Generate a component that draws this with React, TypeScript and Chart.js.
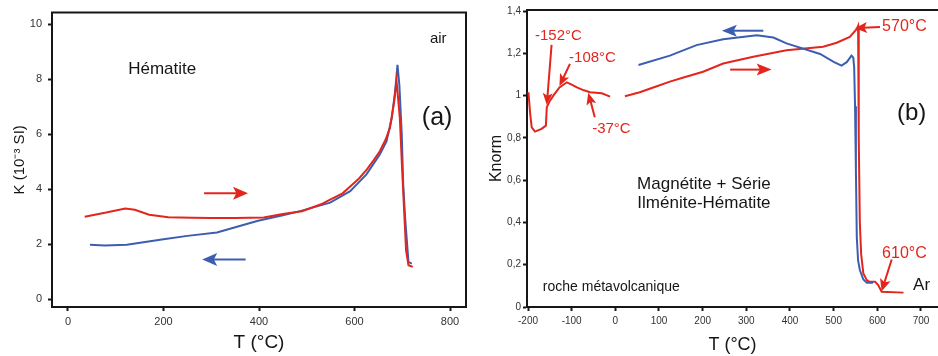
import React, { useEffect, useRef } from "react";
import { Chart, registerables } from "chart.js";

Chart.register(...registerables);

const FONT = "'Liberation Sans', Arial, Helvetica, sans-serif";
Chart.defaults.font.family = FONT;

const RED = "#e3261d";
const BLUE = "#3c5eb0";
const INK = "#161616";

// ---------- Panel (a): Hématite, air ----------
const aHeatT = [35, 80, 120, 140, 170, 210, 260, 300, 350, 410, 450, 490, 530, 549, 575, 591, 610, 626, 640, 653, 665, 674, 683, 688, 695, 699, 704, 708, 713, 722];
const aHeatK = [3.0, 3.15, 3.3, 3.25, 3.07, 2.98, 2.96, 2.95, 2.95, 2.97, 3.1, 3.2, 3.45, 3.62, 3.85, 4.1, 4.4, 4.72, 5.05, 5.38, 5.8, 6.22, 7.18, 7.95, 6.58, 5.0, 3.2, 1.77, 1.23, 1.17];
const aCoolT = [720, 713, 706, 702, 699, 694, 690, 685, 678, 667, 653, 625, 591, 549, 486, 450, 398, 312, 250, 200, 123, 77, 46];
const aCoolK = [1.29, 1.35, 2.97, 4.18, 5.98, 7.78, 8.53, 7.55, 6.58, 5.74, 5.26, 4.54, 3.93, 3.51, 3.2, 3.05, 2.85, 2.42, 2.3, 2.18, 1.98, 1.95, 1.98];
const aXTicks = [0, 200, 400, 600, 800];
const aYTicks = [0, 2, 4, 6, 8, 10];

// ---------- Panel (b): Magnétite + Série Ilménite-Hématite, Ar ----------
const bHeatLowT = [-199, -195, -191.5, -184, -169, -159, -157, -150, -142, -128, -111, -100, -88, -72, -58, -31, -12];
const bHeatLowK = [1.016, 0.914, 0.85, 0.83, 0.843, 0.858, 0.945, 0.975, 1.0, 1.039, 1.063, 1.052, 1.039, 1.025, 1.016, 1.011, 0.995];
const bHeatHighT = [22, 56, 95, 125, 156, 201, 247, 316, 392, 476, 507, 537, 553, 556, 557, 558, 560, 563, 568, 576, 581, 595, 602, 610, 660];
const bHeatHighK = [0.997, 1.016, 1.044, 1.066, 1.086, 1.113, 1.152, 1.184, 1.215, 1.231, 1.25, 1.278, 1.315, 1.33, 1.2, 0.8, 0.4, 0.25, 0.159, 0.127, 0.12, 0.12, 0.104, 0.072, 0.068];
const bCoolT = [53, 125, 186, 247, 324, 362, 392, 469, 500, 518, 530, 541, 545, 547, 549, 551, 553, 556, 560, 568, 576, 590];
const bCoolK = [1.145, 1.189, 1.239, 1.267, 1.286, 1.275, 1.247, 1.197, 1.16, 1.142, 1.158, 1.189, 1.18, 1.134, 0.95, 0.646, 0.33, 0.22, 0.175, 0.13, 0.115, 0.115];
const bXTicks = [-200, -100, 0, 100, 200, 300, 400, 500, 600, 700];
const bYTicks = [0, 0.2, 0.4, 0.6, 0.8, 1, 1.2, 1.4];

// ---------- annotations (data coordinates) ----------
type Arrow = { from: [number, number]; to: [number, number]; color: string; len: number; half: number };
type Label = { text: string; at: [number, number]; color: string; size: number; align: CanvasTextAlign };

const aArrows: Arrow[] = [
  { from: [285, 3.85], to: [377, 3.85], color: RED, len: 15, half: 6.5 },
  { from: [372, 1.44], to: [281, 1.44], color: BLUE, len: 15, half: 6.5 },
];
const aLabels: Label[] = [
  { text: "Hématite", at: [126, 8.38], color: INK, size: 17, align: "left" },
  { text: "air", at: [758, 9.46], color: INK, size: 15, align: "left" },
  { text: "(a)", at: [741, 6.57], color: INK, size: 25, align: "left" },
];

const bArrows: Arrow[] = [
  { from: [339, 1.307], to: [244, 1.307], color: BLUE, len: 15, half: 6 },
  { from: [263, 1.123], to: [358, 1.123], color: RED, len: 15, half: 6 },
  { from: [-146, 1.24], to: [-157, 0.955], color: RED, len: 12, half: 5 },
  { from: [-104, 1.15], to: [-128, 1.045], color: RED, len: 12, half: 5 },
  { from: [-47, 0.898], to: [-62, 1.014], color: RED, len: 12, half: 5 },
  { from: [606, 1.325], to: [549, 1.319], color: RED, len: 12, half: 5.5 },
  { from: [633, 0.225], to: [610, 0.075], color: RED, len: 12, half: 5.5 },
];
const bLabels: Label[] = [
  { text: "-152°C", at: [-184, 1.283], color: RED, size: 15, align: "left" },
  { text: "-108°C", at: [-106, 1.179], color: RED, size: 15, align: "left" },
  { text: "-37°C", at: [-53, 0.844], color: RED, size: 15, align: "left" },
  { text: "570°C", at: [611, 1.325], color: RED, size: 16, align: "left" },
  { text: "610°C", at: [611, 0.255], color: RED, size: 16, align: "left" },
  { text: "Magnétite + Série", at: [203, 0.58], color: INK, size: 17, align: "center" },
  { text: "Ilménite-Hématite", at: [203, 0.49], color: INK, size: 17, align: "center" },
  { text: "roche métavolcanique", at: [-166, 0.094], color: INK, size: 14, align: "left" },
  { text: "Ar", at: [682, 0.104], color: INK, size: 17, align: "left" },
  { text: "(b)", at: [645, 0.915], color: INK, size: 24, align: "left" },
];

const pts = (xs: number[], ys: number[]) => xs.map((x, i) => ({ x, y: ys[i] }));

function makeAnnot(arrows: Arrow[], labels: Label[], frameTop: boolean, frameRight: boolean) {
  return {
    id: "annot",
    afterDatasetsDraw(chart: any) {
      const { ctx, chartArea } = chart;
      const sx = chart.scales.x;
      const sy = chart.scales.y;
      ctx.save();
      ctx.strokeStyle = INK;
      ctx.lineWidth = 2;
      if (frameTop) {
        ctx.beginPath();
        ctx.moveTo(chartArea.left - 1, chartArea.top);
        ctx.lineTo(chartArea.right + (frameRight ? 1 : 0), chartArea.top);
        ctx.stroke();
      }
      if (frameRight) {
        ctx.beginPath();
        ctx.moveTo(chartArea.right, chartArea.top);
        ctx.lineTo(chartArea.right, chartArea.bottom + 1);
        ctx.stroke();
      }
      for (const a of arrows) {
        const x1 = sx.getPixelForValue(a.from[0]);
        const y1 = sy.getPixelForValue(a.from[1]);
        const x2 = sx.getPixelForValue(a.to[0]);
        const y2 = sy.getPixelForValue(a.to[1]);
        const ang = Math.atan2(y2 - y1, x2 - x1);
        const bx = x2 - Math.cos(ang) * a.len * 0.7;
        const by = y2 - Math.sin(ang) * a.len * 0.7;
        ctx.strokeStyle = a.color;
        ctx.fillStyle = a.color;
        ctx.lineWidth = 2;
        ctx.beginPath();
        ctx.moveTo(x1, y1);
        ctx.lineTo(bx, by);
        ctx.stroke();
        ctx.save();
        ctx.translate(x2, y2);
        ctx.rotate(ang);
        ctx.beginPath();
        ctx.moveTo(0, 0);
        ctx.lineTo(-a.len, -a.half);
        ctx.lineTo(-a.len * 0.78, 0);
        ctx.lineTo(-a.len, a.half);
        ctx.closePath();
        ctx.fill();
        ctx.restore();
      }
      for (const l of labels) {
        ctx.font = `${l.size}px ${FONT}`;
        ctx.fillStyle = l.color;
        ctx.textAlign = l.align;
        ctx.textBaseline = "middle";
        ctx.fillText(l.text, sx.getPixelForValue(l.at[0]), sy.getPixelForValue(l.at[1]));
      }
      ctx.restore();
    },
  };
}

function axisCommon(tickSize: number) {
  return {
    grid: { display: true, drawOnChartArea: false, drawTicks: true, tickLength: 4, tickWidth: 2, tickColor: INK },
    border: { display: true, color: INK, width: 2 },
    ticks: { color: "#333", font: { size: tickSize }, autoSkip: false, maxRotation: 0 },
  };
}

function buildConfig(opts: {
  datasets: any[];
  xMin: number; xMax: number; yMin: number; yMax: number;
  xTicks: number[]; yTicks: number[];
  yAxisWidth: number; xAxisHeight: number;
  padRight: number;
  tickSize: number;
  xTitleSize: number; xTitlePad: number;
  yTitle: string; yTitleSize: number; yTitlePad: number;
  yTickPad: number;
  yFmt: (v: number) => string;
  plugin: any;
}) {
  const cx = axisCommon(opts.tickSize);
  const cy = axisCommon(opts.tickSize);
  return {
    type: "line" as const,
    data: { datasets: opts.datasets },
    options: {
      responsive: false,
      animation: false as const,
      devicePixelRatio: 1,
      layout: { padding: { top: 10, right: opts.padRight, bottom: 0, left: 0 } },
      plugins: { legend: { display: false }, tooltip: { enabled: false } },
      elements: { point: { radius: 0 } },
      scales: {
        x: {
          type: "linear" as const,
          min: opts.xMin,
          max: opts.xMax,
          ...cx,
          ticks: { ...cx.ticks, padding: 4, callback: (v: any) => String(v) },
          afterBuildTicks: (s: any) => { s.ticks = opts.xTicks.map((v) => ({ value: v })); },
          afterFit: (s: any) => { s.height = opts.xAxisHeight; },
          title: { display: true, text: "T (°C)", color: INK, font: { size: opts.xTitleSize }, padding: { top: 0, bottom: opts.xTitlePad } },
        },
        y: {
          type: "linear" as const,
          min: opts.yMin,
          max: opts.yMax,
          ...cy,
          ticks: { ...cy.ticks, padding: opts.yTickPad, callback: (v: any) => opts.yFmt(v) },
          afterBuildTicks: (s: any) => { s.ticks = opts.yTicks.map((v) => ({ value: v })); },
          afterFit: (s: any) => { s.width = opts.yAxisWidth; },
          title: { display: true, text: opts.yTitle, color: INK, font: { size: opts.yTitleSize }, padding: { top: opts.yTitlePad, bottom: 0 } },
        },
      },
    },
    plugins: [opts.plugin],
  };
}

const lineDs = (data: any[], color: string) => ({
  data,
  borderColor: color,
  backgroundColor: color,
  borderWidth: 2,
  pointRadius: 0,
  fill: false,
  tension: 0,
});

export default function App() {
  const refA = useRef<HTMLCanvasElement | null>(null);
  const refB = useRef<HTMLCanvasElement | null>(null);

  useEffect(() => {
    const chartA = new Chart(
      refA.current as HTMLCanvasElement,
      buildConfig({
        datasets: [lineDs(pts(aHeatT, aHeatK), RED), lineDs(pts(aCoolT, aCoolK), BLUE)],
        xMin: -33.5, xMax: 833.5, yMin: -0.29, yMax: 10.43,
        xTicks: aXTicks, yTicks: aYTicks,
        yAxisWidth: 52, xAxisHeight: 49, padRight: 4,
        tickSize: 11,
        xTitleSize: 19, xTitlePad: 2,
        yTitle: "K (10⁻³ SI)", yTitleSize: 15, yTitlePad: 11,
        yTickPad: 6,
        yFmt: (v) => String(v),
        plugin: makeAnnot(aArrows, aLabels, true, true),
      }) as any
    );
    const chartB = new Chart(
      refB.current as HTMLCanvasElement,
      buildConfig({
        datasets: [
          lineDs(pts(bCoolT, bCoolK), BLUE),
          lineDs(pts(bHeatLowT, bHeatLowK), RED),
          lineDs(pts(bHeatHighT, bHeatHighK), RED),
        ],
        xMin: -202.3, xMax: 739, yMin: 0, yMax: 1.405,
        xTicks: bXTicks, yTicks: bYTicks,
        yAxisWidth: 57, xAxisHeight: 49, padRight: 0,
        tickSize: 10,
        xTitleSize: 18, xTitlePad: 0,
        yTitle: "Knorm", yTitleSize: 16, yTitlePad: 17,
        yTickPad: 2,
        yFmt: (v) => String(v).replace(".", ","),
        plugin: makeAnnot(bArrows, bLabels, true, false),
      }) as any
    );
    return () => {
      chartA.destroy();
      chartB.destroy();
    };
  }, []);

  return (
    <div style={{ position: "absolute", left: 0, top: 0, width: 938, height: 356, background: "#fff" }}>
      <canvas ref={refA} width={470} height={356} style={{ position: "absolute", left: 0, top: 0, display: "block" }} />
      <canvas ref={refB} width={468} height={356} style={{ position: "absolute", left: 470, top: 0, display: "block" }} />
    </div>
  );
}
